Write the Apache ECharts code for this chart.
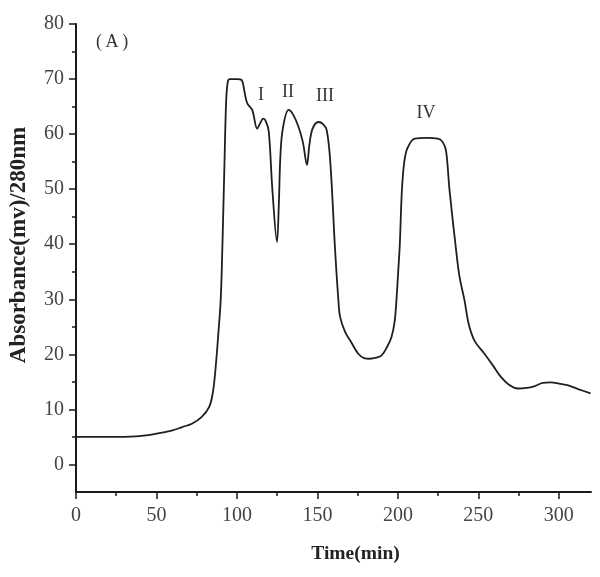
<!DOCTYPE html>
<html>
<head>
<meta charset="utf-8">
<script src="https://cdn.jsdelivr.net/npm/echarts@6/dist/echarts.min.js"></script>
<style>html,body{margin:0;padding:0;background:#fff;}#chart{width:600px;height:577px;}</style>
</head>
<body>
<div id="chart"></div>
<script>
var timeMin = [0,20,37,50,60,66,72,78,82.7,85,86.8,88.5,89.9,91,92.3,93.3,94.3,95.5,100,103,104.5,106.4,109.5,112.6,114.5,116.3,118,119.8,122,124.9,126,127,128.5,132.1,135,138.3,141,143.5,145,147,150.7,153.5,155.8,158,161,163,164.1,167.2,171,175.4,179,182.6,186.5,189.9,193,196,198,199.1,200.2,201.2,202.5,204,206,210.5,218,224.9,228,230,232.1,236.2,238.3,241.4,244,247.6,253.8,259,264,269,274.4,280,284.7,290,295,300,305.3,312,319.7];
var absorbance = [5.0,5.0,5.1,5.6,6.2,6.8,7.4,8.6,10.4,13,17.7,24,29.8,40,55.3,66,69.5,70,70,69.8,68,65.6,64.4,61.0,62,62.8,62.3,60.4,50,40.4,47,56,61,64.4,63.5,61.3,58.5,54.4,58,61,62.2,61.8,60.7,55,38.9,30,26.8,24.1,22.2,20.1,19.3,19.2,19.4,19.8,21.2,23.1,26,29.8,35,40,49.8,55,57.5,59.2,59.3,59.2,58.5,56.8,49.8,38.9,34.1,29.8,25.5,22.5,20.1,18,15.9,14.5,13.8,13.9,14.2,14.8,14.9,14.7,14.4,13.7,12.9];
var xMajorTicks = [0,50,100,150,200,250,300];
var xMinorTicks = [25,75,125,175,225,275];
var yMajorTicks = [0,10,20,30,40,50,60,70,80];
var yMinorTicks = [5,15,25,35,45,55,65,75];
var peakLabels = ['I','II','III','IV'];

var chart = echarts.init(document.getElementById('chart'));
var serif = 'Liberation Serif';
var axisCol = '#1a1a1a';
var lblCol = '#444';
var data = timeMin.map(function(t,i){return [t, absorbance[i]];});

chart.setOption({
  animation: false,
  backgroundColor: '#fff',
  grid: {left: 73, right: 9, top: 24, bottom: 85, containLabel: false},
  xAxis: [{
    type: 'value', min: 0, max: 320, position: 'bottom',
    axisLine: {onZero: false, lineStyle: {color: axisCol, width: 2}},
    axisTick: {customValues: xMajorTicks, length: 7, lineStyle: {color: axisCol, width: 1.5}},
    axisLabel: {customValues: xMajorTicks, color: lblCol, fontFamily: serif, fontSize: 20, margin: 14},
    splitLine: {show: false},
    name: 'Time(min)', nameLocation: 'middle', nameGap: 52,
    nameTextStyle: {fontFamily: serif, fontWeight: 'bold', fontSize: 19.5, color: '#222', padding: [0,0,0,44]}
  },{
    type: 'value', min: 0, max: 320, position: 'bottom', offset: 0,
    axisLine: {show: false, onZero: false},
    axisTick: {customValues: xMinorTicks, length: 4, lineStyle: {color: axisCol, width: 1.5}},
    axisLabel: {show: false}, splitLine: {show: false}
  }],
  yAxis: [{
    type: 'value', min: -5, max: 80, position: 'left',
    axisLine: {onZero: false, lineStyle: {color: axisCol, width: 2}},
    axisTick: {customValues: yMajorTicks, length: 7, lineStyle: {color: axisCol, width: 1.5}},
    axisLabel: {customValues: yMajorTicks, color: lblCol, fontFamily: serif, fontSize: 20, margin: 12},
    splitLine: {show: false},
    name: 'Absorbance(mv)/280nm', nameLocation: 'middle', nameGap: 45, nameRotate: 90,
    nameTextStyle: {fontFamily: serif, fontWeight: 'bold', fontSize: 23, color: '#222', padding: [0,0,0,26]}
  },{
    type: 'value', min: -5, max: 80, position: 'left', offset: 0,
    axisLine: {show: false, onZero: false},
    axisTick: {customValues: yMinorTicks, length: 4, lineStyle: {color: axisCol, width: 1.5}},
    axisLabel: {show: false}, splitLine: {show: false}
  }],
  series: [{
    type: 'line', xAxisIndex: 0, yAxisIndex: 0,
    data: data, showSymbol: false, smooth: 0.35,
    lineStyle: {color: '#1f1f1f', width: 1.8}
  }],
  graphic: [
    {type: 'text', left: 96, top: 33, style: {text: '(\u2009A\u2009)', font: '18px "Liberation Serif"', fill: '#333'}},
    {type: 'text', x: 261, y: 95, style: {text: peakLabels[0], font: '18px "Liberation Serif"', fill: '#333', align: 'center', verticalAlign: 'middle'}},
    {type: 'text', x: 288, y: 92, style: {text: peakLabels[1], font: '18px "Liberation Serif"', fill: '#333', align: 'center', verticalAlign: 'middle'}},
    {type: 'text', x: 325, y: 96, style: {text: peakLabels[2], font: '18px "Liberation Serif"', fill: '#333', align: 'center', verticalAlign: 'middle'}},
    {type: 'text', x: 426, y: 113, style: {text: peakLabels[3], font: '18px "Liberation Serif"', fill: '#333', align: 'center', verticalAlign: 'middle'}}
  ]
});
</script>
</body>
</html>
